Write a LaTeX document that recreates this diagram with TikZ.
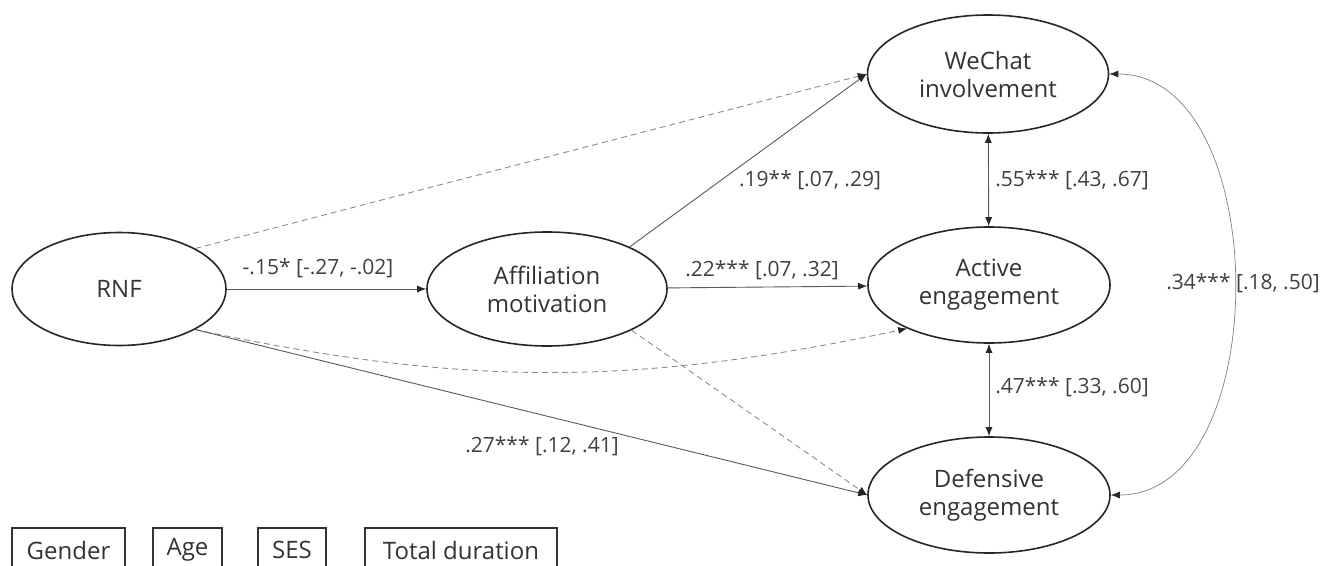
\documentclass[tikz,border=0pt]{standalone}
\usepackage{fontspec}
\setmainfont{Open Sans}
\usetikzlibrary{arrows.meta,shapes.geometric}

\tikzset{
  latent/.style={ellipse, draw=black!85, line width=1.6pt, inner sep=0pt,
    align=center, text=black!80},
  covbox/.style={draw=black!80, line width=1.3pt, minimum height=44pt,
    inner sep=0pt, text=black!80},
  effect/.style={->, draw=black!65, line width=0.9pt},
  noeffect/.style={effect, draw=black!45, dash pattern=on 6pt off 4pt},
  coef/.style={text=black!75, inner sep=0pt, font=\fontsize{21}{25}\selectfont}
}

\begin{document}
\begin{tikzpicture}[x=1pt, y=1pt, font=\fontsize{24}{28}\selectfont,
    >={Latex[length=9pt, width=7pt, color=black!85]}]
  \useasboundingbox (0,0) rectangle (1333,-565);
  \clip (0,0) rectangle (1333,-565);
  % latent variables
  \node[latent, minimum width=214pt, minimum height=113pt] (rnf) at (119,-289) {RNF};
  \node[latent, minimum width=240pt, minimum height=114pt] (aff) at (547,-289) {Affiliation\\motivation};
  \node[latent, minimum width=241pt, minimum height=118pt] (wec) at (988,-74) {WeChat\\involvement};
  \node[latent, minimum width=242pt, minimum height=116pt] (act) at (989,-285) {Active\\engagement};
  \node[latent, minimum width=242pt, minimum height=116pt] (dfn) at (989,-495) {Defensive\\engagement};
  % covariates
  \node[covbox, minimum width=113pt] (gender) at (68.5,-550) {Gender};
  \node[covbox, minimum width=69pt] (age) at (187.5,-550) {Age};
  \node[covbox, minimum width=68pt] (ses) at (292,-550) {SES};
  \node[covbox, minimum width=192pt] (dur) at (461,-550) {Total duration};
  % paths
  \draw[effect] (rnf) -- (aff);
  \draw[noeffect] (rnf.28) -- (wec.west);
  \draw[effect] (aff.27) -- (wec.west);
  \draw[effect] (aff) -- (act);
  \draw[noeffect] (rnf.-28) to[out=-12, in=192] (act.208);
  \draw[effect] (rnf.-28) -- (dfn.west);
  \draw[noeffect] (aff.-26) -- (dfn.west);
  \draw[effect, <->] (wec) -- (act);
  \draw[effect, <->] (act) -- (dfn);
  \draw[effect, <->, draw=black!50, line width=0.7pt] (wec.east) to[out=0, in=0] (dfn.east);
  % coefficients
  \node[coef] (lrnfaff) at (318,-268) {-.15* [-.27, -.02]};
  \node[coef] (laffwec) at (810,-180) {.19** [.07, .29]};
  \node[coef] (laffact) at (762,-270) {.22*** [.07, .32]};
  \node[coef] (lrnfdfn) at (542,-446) {.27*** [.12, .41]};
  \node[coef] (lwecact) at (1072,-180) {.55*** [.43, .67]};
  \node[coef] (lactdfn) at (1072,-387) {.47*** [.33, .60]};
  \node[coef] (lwecdfn) at (1243,-283) {.34*** [.18, .50]};
\end{tikzpicture}
\end{document}
